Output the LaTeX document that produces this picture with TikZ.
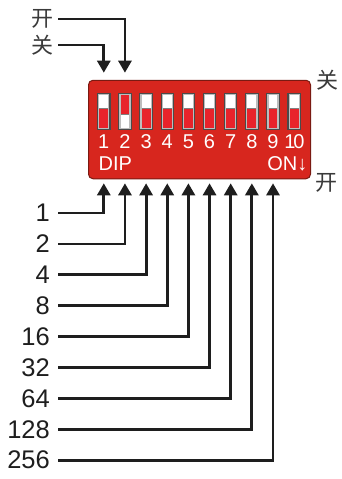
\documentclass[tikz,border=0pt]{standalone}
\usepackage{fontspec}
\setmainfont{Liberation Sans}
\newfontfamily\cjk{Noto Sans CJK SC}
\usetikzlibrary{arrows.meta}
\definecolor{boxred}{HTML}{D7261E}
\definecolor{boxdark}{HTML}{7A1A12}
\definecolor{swred}{HTML}{E8232B}
\definecolor{swdark}{HTML}{4A4A4A}
\definecolor{swlight}{HTML}{BDBDBD}
\definecolor{ink}{HTML}{1E1E1E}
\definecolor{cjkgray}{HTML}{3A3A3A}
\tikzset{
  conn/.style={draw=ink, line width=2.8pt, -{Triangle[width=13pt,length=12pt]}},
  val/.style={anchor=east, text=ink, font=\fontsize{25.5}{25.5}\selectfont, inner sep=0pt},
  num/.style={text=white, font=\fontsize{20}{20}\selectfont, inner sep=0pt},
  cjklab/.style={text=cjkgray, font=\cjk\fontsize{22}{22}\selectfont, inner sep=0pt},
  swbox/.style={draw=swdark, fill=swlight, line width=1.1pt, minimum width=12.4pt, minimum height=36pt, inner sep=0pt},
}
\begin{document}
\begin{tikzpicture}[x=1pt,y=-1pt]
\useasboundingbox (0,0) rectangle (342,479);
% DIP body
\node[draw=boxdark, fill=boxred, line width=1pt, rounded corners=4.5pt,
      minimum width=222pt, minimum height=98.5pt, inner sep=0pt] (dip) at (199.5,129.5) {};
% switches
\foreach \i in {1,...,9}{
  \pgfmathsetmacro\x{103.8+(\i-1)*21.15}
  \node[num] (n\i) at (\x,141.5) {\i};
}
\node[num] (n10) at (294.5,141.5) {1\kern-2.2pt0};
\foreach \i in {1,...,10}{
  \pgfmathsetmacro\x{103.8+(\i-1)*21.15}
  \node[swbox] (s\i) at (\x,111.4) {};
  \coordinate (b\i) at (\x,183.3);
}
\foreach \i in {1,3,4,5,6,7,8,9,10}{
  \pgfmathsetmacro\x{103.8+(\i-1)*21.15}
  \fill[white] (\x-4.4,95.2) rectangle (\x+4.4,108);
  \fill[swred] (\x-4.4,108) rectangle (\x+4.4,127.6);
  \draw[swdark!70, line width=0.6pt] (\x-4.4,108) -- (\x+4.4,108);
}
\fill[swred] (125-4.4,95.2) rectangle (125+4.4,114);
\fill[white] (125-4.4,114) rectangle (125+4.4,127.6);
\draw[swdark!70, line width=0.6pt] (125-4.4,114) -- (125+4.4,114);
\node[num, anchor=west] (diplab) at (98.5,164) {DIP};
\node[num, anchor=east] (onlab) at (307.5,164) {ON↓};
% side labels
\node[cjklab] (kai) at (42,19) {开};
\node[cjklab] (guan) at (42,45) {关};
\node[cjklab] (guanR) at (327,80) {关};
\node[cjklab] (kaiR) at (326,183) {开};
\coordinate (t1) at (103.8,72.7);
\coordinate (t2) at (124.95,72.7);
\draw[conn, shorten <=5pt] (kai.east) -| (t2);
\draw[conn, shorten <=5pt] (guan.east) -| (t1);
% weights
\foreach \w [count=\k from 1] in {1,2,4,8,16,32,64,128,256}{
  \pgfmathsetmacro\y{213+(\k-1)*30.9}
  \node[val] (w\k) at (50,\y) {\w};
  \draw[conn, shorten <=8.3pt] (w\k.east) -| (b\k);
}
\end{tikzpicture}
\end{document}
